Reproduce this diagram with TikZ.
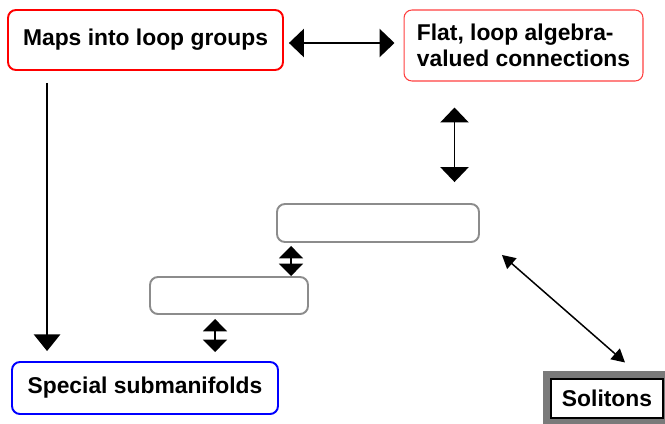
\documentclass[tikz,border=0pt]{standalone}
\usepackage{fontspec}
\setmainfont{Liberation Sans}
\usepackage{tikz}
\usetikzlibrary{positioning,arrows.meta,calc}
\definecolor{boxred}{HTML}{FF0000}
\definecolor{lightred}{HTML}{FF4040}
\definecolor{boxblue}{HTML}{0000FF}
\definecolor{boxgray}{HTML}{8C8C8C}
\definecolor{bandgray}{HTML}{7A7A7A}
\begin{document}
\begin{tikzpicture}[x=0.02cm, y=-0.02cm,
    topic/.style={rectangle, rounded corners=4.5pt, fill=white,
      font=\fontsize{13}{14.5}\selectfont\bfseries, inner sep=0pt},
    bigarrow/.style={line width=1.1pt, arrows={Triangle[width=16pt,length=8.5pt]-Triangle[width=16pt,length=8.5pt]}},
    smallarrow/.style={line width=1.1pt, arrows={Triangle[width=13.5pt,length=7pt]-Triangle[width=13.5pt,length=7pt]}},
    thinarrow/.style={line width=0.85pt, arrows={Triangle[width=8pt,length=7.5pt]-Triangle[width=8pt,length=7.5pt]}}]
        \useasboundingbox (0,0) rectangle (665,423);
        % Top row
        \node[topic, draw=boxred, line width=1.1pt, minimum width=5.5cm, minimum height=1.2cm]
          (maps) at (145.5,40) {Maps into loop groups};
        \node[topic, draw=lightred, line width=0.6pt, minimum width=4.78cm, minimum height=1.42cm,
          align=left] (flat) at (523.5,45.5) {Flat, loop algebra-\\valued connections};
        % Empty boxes
        \node[topic, draw=boxgray, line width=1.1pt, minimum width=4.04cm, minimum height=0.76cm]
          (blankA) at (378,223) {};
        \node[topic, draw=boxgray, line width=1.1pt, minimum width=3.16cm, minimum height=0.74cm]
          (blankB) at (229,295.5) {};
        % Bottom row
        \node[topic, draw=boxblue, line width=1.1pt, minimum width=5.32cm, minimum height=1.04cm]
          (special) at (145,388) {Special submanifolds};
        \node[rectangle, draw=black, line width=0.6pt, fill=white, inner sep=0pt,
          preaction={draw=bandgray, line width=9pt},
          font=\fontsize{13}{14.5}\selectfont\bfseries, minimum width=2.24cm, minimum height=0.78cm]
          (solitons) at (607,398.5) {Solitons};
        % Connectors
        \draw[bigarrow] ([shift={(5,3)}]maps.east) -- ([shift={(-9,-2.5)}]flat.west);
        \draw[bigarrow] ([shift={(51,26)}]flat.south west) -- ([shift={(51,-21)}]flat.south west |- blankA.north);
        \draw[smallarrow] ([shift={(15,3)}]blankA.south west) -- ([shift={(15,0)}]blankA.south west |- blankB.north);
        \draw[smallarrow] ([shift={(66,4)}]blankB.south west) -- ([shift={(66,-9)}]blankB.south west |- special.north);
        \draw[line width=1.1pt, arrows={-Triangle[width=15pt,length=9.5pt]}] ([shift={(40,12)}]maps.south west)
          -- ([shift={(40,-10)}]maps.south west |- special.north);
        \draw[thinarrow] ([shift={(22,12)}]blankA.south east) -- ([shift={(18,-16)}]solitons.north);
      \end{tikzpicture}
\end{document}
